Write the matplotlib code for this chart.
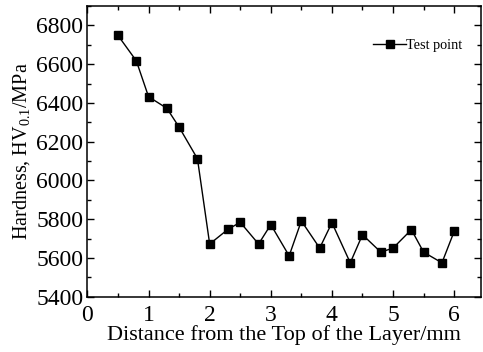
import numpy as np
import matplotlib.pyplot as plt
from matplotlib.ticker import MultipleLocator

plt.rcParams['font.family'] = 'Liberation Serif'
plt.rcParams['mathtext.fontset'] = 'custom'
plt.rcParams['mathtext.rm'] = 'Liberation Serif'

abstand = [0.5, 0.8, 1.0, 1.3, 1.5, 1.8, 2.0, 2.3, 2.5, 2.8, 3.0, 3.3,
           3.5, 3.8, 4.0, 4.3, 4.5, 4.8, 5.0, 5.3, 5.5, 5.8, 6.0]
haerte = [6748, 6617, 6432, 6372, 6275, 6112, 5672, 5748, 5784, 5672, 5772, 5611,
          5791, 5651, 5782, 5575, 5720, 5630, 5651, 5746, 5630, 5575, 5737]

fig = plt.figure(figsize=(4.83, 3.52), dpi=100)
ax = fig.add_axes([0.181, 0.157, 0.815, 0.826])
ax.plot(abstand, haerte, color='black', marker='s', markersize=5.2, linewidth=1.0,
        label='Test point')

ax.set_xlim(0, 6.44)
ax.set_ylim(5400, 6900)
ax.xaxis.set_major_locator(MultipleLocator(1))
ax.xaxis.set_minor_locator(MultipleLocator(0.5))
ax.yaxis.set_major_locator(MultipleLocator(200))
ax.yaxis.set_minor_locator(MultipleLocator(100))
ax.tick_params(which='both', direction='in', top=True, right=True, labelsize=17, width=1.0)
ax.tick_params(which='major', length=5)
ax.tick_params(which='minor', length=3)
ax.tick_params(axis='x', which='major', pad=6)
ax.tick_params(axis='y', which='major', pad=3)
for s in ax.spines.values():
    s.set_linewidth(1.1)

ax.set_xlabel('Distance from the Top of the Layer/mm', fontsize=16, labelpad=-1)
ax.set_ylabel('Hardness, HV$_{\\mathrm{0.1}}$/MPa', fontsize=14.5, labelpad=3)

ax.legend(loc='upper right', bbox_to_anchor=(0.985, 0.93), frameon=False, fontsize=10.3,
          handlelength=2.3, handletextpad=0.0)

plt.savefig('out.png', dpi=100)
